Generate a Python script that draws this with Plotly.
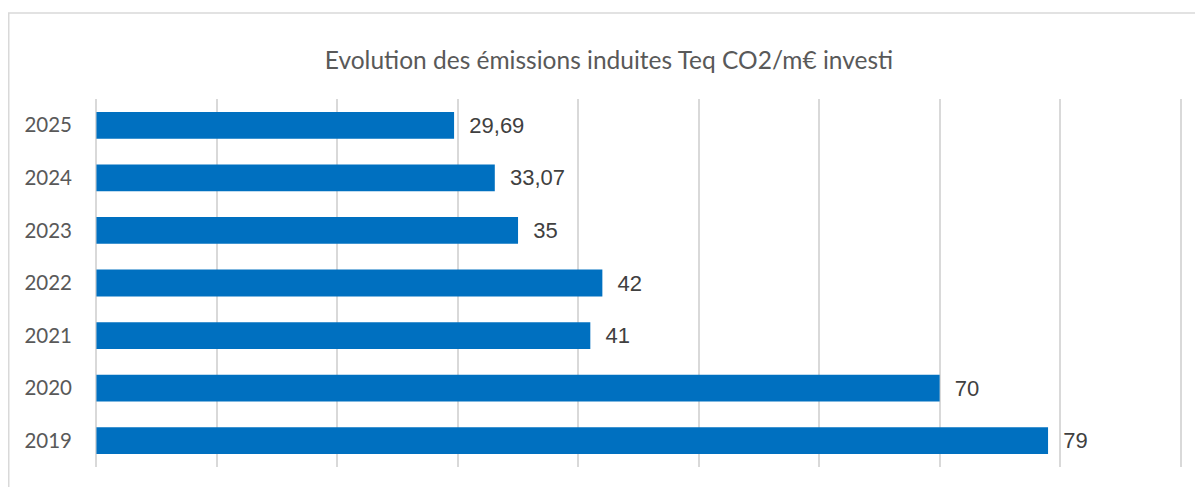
import plotly.graph_objects as go

# ---------------- Data ----------------
years = ["2019", "2020", "2021", "2022", "2023", "2024", "2025"]
emissions = [79, 70, 41, 42, 35, 33.07, 29.69]
labels = ["79", "70", "41", "42", "35", "33,07", "29,69"]

title_text = "Evolution des émissions induites Teq CO2/m€ investi"

# ---------------- Chart ----------------
fig = go.Figure()
fig.add_trace(go.Bar(
    y=years, x=emissions, orientation="h",
    marker=dict(color="#0070C0", line=dict(width=0)),
    text=["  " + t for t in labels], textposition="outside",
    textfont=dict(family="Liberation Sans", size=22, color="#404040"),
    cliponaxis=False, hoverinfo="skip",
))

# page has an 8px body margin, so the plot area is placed 8px up/left of the target
# range padded slightly so the gridlines at 0 and 90 are not clipped at the edges
fig.update_layout(
    width=1203, height=487,
    margin=dict(l=87, r=29, t=91, b=28, autoexpand=False),
    paper_bgcolor="white", plot_bgcolor="white",
    bargap=0.49, showlegend=False,
    title=dict(text=title_text, x=(609 - 8) / 1203, xanchor="center", y=1 - 52 / 487, yanchor="middle",
               font=dict(family="Lato", size=24.5, color="#595959")),
    xaxis=dict(range=[-0.12, 90.12], dtick=10, tick0=0, showticklabels=False, showgrid=True,
               gridcolor="#D9D9D9", gridwidth=1.5, zeroline=False, showline=False, ticks=""),
    yaxis=dict(showgrid=False, zeroline=False, showline=False, ticks="",
               tickfont=dict(family="Lato", size=20.5, color="#595959"), ticklabelstandoff=22),
    shapes=[dict(type="rect", xref="paper", yref="paper",
                 x0=(0.75 - 87) / 1087, x1=1.2, y0=-0.3, y1=1 + (91 - 5) / 368,
                 line=dict(color="#D9D9D9", width=1.5), fillcolor="rgba(0,0,0,0)", layer="below")],
)

fig.write_html("out.html")
